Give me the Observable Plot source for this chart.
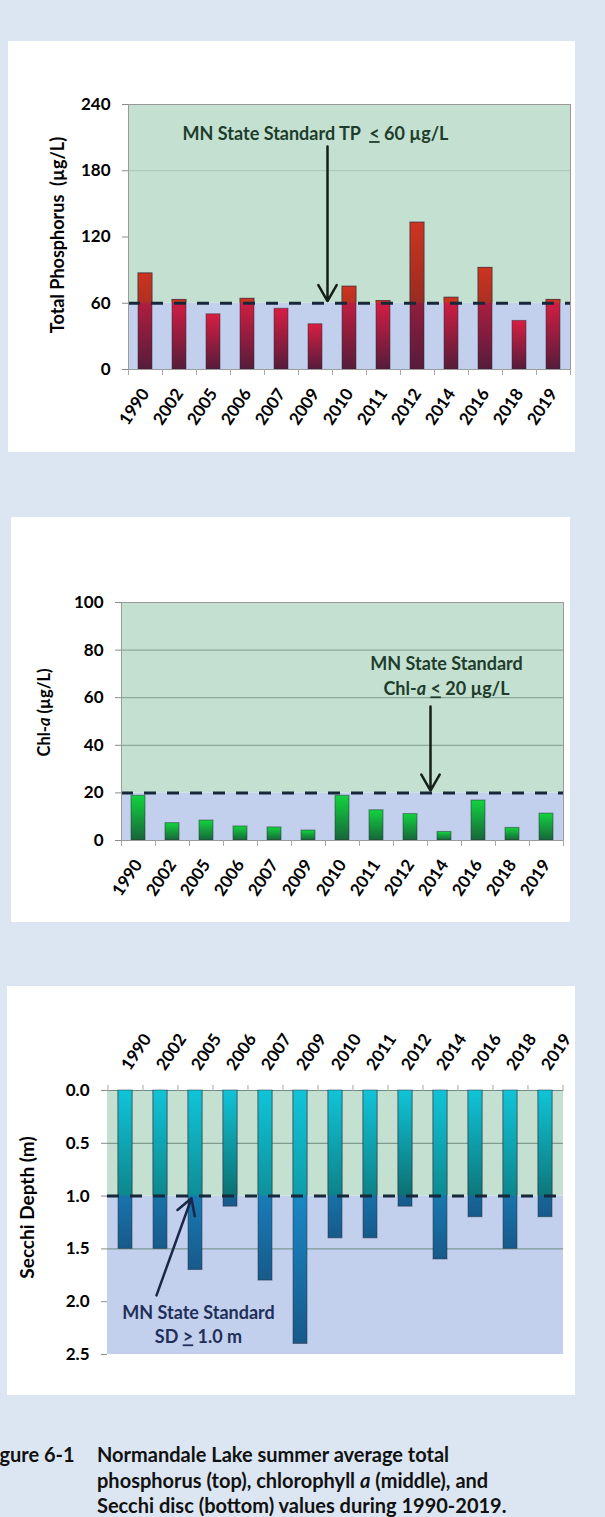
<!DOCTYPE html>
<html><head><meta charset="utf-8">
<script src="https://cdn.jsdelivr.net/npm/d3@7"></script>
<script src="https://cdn.jsdelivr.net/npm/@observablehq/plot@0.6"></script>
<style>
html,body{margin:0;padding:0;}
body{width:605px;height:1517px;background:#dce6f2;position:relative;overflow:hidden;font-family:Lato,"Open Sans",sans-serif;}
.panel{position:absolute;background:#fff;}
.panel svg{display:block;}
.caption{position:absolute;font-weight:bold;font-size:20px;color:#111;line-height:25.5px;white-space:nowrap;}
</style></head>
<body>
<div id="p1" class="panel" style="left:8px;top:41px;width:567px;height:411px"></div>
<div id="p2" class="panel" style="left:11px;top:517px;width:559px;height:405px"></div>
<div id="p3" class="panel" style="left:7px;top:986px;width:568px;height:409px"></div>
<div class="caption" style="left:-17px;top:1442px">Figure 6-1</div>
<div class="caption" style="left:97px;top:1442px">Normandale Lake summer average total<br>phosphorus (top), chlorophyll <i>a</i> (middle), and<br>Secchi disc (bottom) values during 1990-2019.</div>
<script>
// ---- data ----
const years = ["1990","2002","2005","2006","2007","2009","2010","2011","2012","2014","2016","2018","2019"];
const tpValues = [87, 63, 50, 64, 55, 41, 75, 62, 133, 65, 92, 44, 63];
const chlValues = [18.8, 7.3, 8.4, 5.9, 5.5, 4.2, 18.8, 12.7, 11.1, 3.6, 16.8, 5.3, 11.3];
const secchiValues = [1.5, 1.5, 1.7, 1.1, 1.8, 2.4, 1.4, 1.4, 1.1, 1.6, 1.2, 1.5, 1.2];
const tpTicks = [0, 60, 120, 180, 240];
const chlTicks = [0, 20, 40, 60, 80, 100];
const secchiTicks = [0, 0.5, 1.0, 1.5, 2.0, 2.5];
const tpStandard = 60, chlStandard = 20, secchiStandard = 1.0;
const tpGrid = [180], chlGrid = [40, 60, 80], secchiGrid = [0, 0.5, 1.5];
const tpLabel = "Total Phosphorus\u00a0 (µg/L)";
const chlLabel = "Chl-a (µg/L)";
const secchiLabel = "Secchi Depth (m)";
const tpNotes = [{x: "2009", y: 213, text: "MN State Standard TP\u00a0 ≤ 60 µg/L"}];
const chlNotes = [{x: "2014", y: 73.9, text: "MN State Standard"}, {x: "2014", y: 63.4, text: "Chl-a ≤ 20 µg/L"}];
const secchiNotes = [{x: "2005", y: 2.11, text: "MN State Standard"}, {x: "2005", y: 2.34, text: "SD ≥ 1.0 m"}];
const tpArrow = [{a: "2009", b: "2009", y1: 202, y2: 62}];
const chlArrow = [{a: "2014", b: "2014", y1: 56.3, y2: 21}];
const secchiArrow = [{a: "2002", b: "2005", y1: 1.94, y2: 1.02}];

const NS = "http://www.w3.org/2000/svg";
function esc(s){return s.replace(/&/g,"&amp;").replace(/</g,"&lt;").replace(/>/g,"&gt;");}
function richify(svg){
  svg.querySelectorAll("text").forEach(t => {
    if (t.querySelector("tspan")) return;
    const s = t.textContent;
    if (!/Chl-a|≤|≥/.test(s)) return;
    let h = esc(s);
    h = h.replace("Chl-a", 'Chl-<tspan font-style="italic">a</tspan>');
    h = h.replace("≤", '<tspan text-decoration="underline">&lt;</tspan>');
    h = h.replace("≥", '<tspan text-decoration="underline">&gt;</tspan>');
    t.innerHTML = h;
  });
}

function chart(c){
  const data = years.map((year, i) => ({year, value: c.values[i]}));
  const step = (c.width - c.ml - c.mr) / years.length;
  const defs = () => {
    const d = document.createElementNS(NS, "defs");
    d.innerHTML =
      `<linearGradient id="${c.id}-low" x1="0" y1="0" x2="0" y2="1"><stop offset="0" stop-color="${c.low[0]}"/><stop offset="1" stop-color="${c.low[1]}"/></linearGradient>` +
      `<linearGradient id="${c.id}-high" x1="0" y1="0" x2="0" y2="1"><stop offset="0" stop-color="${c.high[0]}"/><stop offset="1" stop-color="${c.high[1]}"/></linearGradient>`;
    return d;
  };
  const tick = {fontSize: 17, fontWeight: "bold"};
  const plot = Plot.plot({
    width: c.width, height: c.height,
    marginLeft: c.ml, marginRight: c.mr, marginTop: c.mt, marginBottom: c.mb,
    style: {background: "transparent", fontFamily: "Lato, 'Open Sans', sans-serif", overflow: "visible"},
    x: {type: "band", domain: years, paddingInner: 0.59, paddingOuter: 0.295},
    y: {domain: c.domain, reverse: !!c.reverse},
    marks: [
      defs,
      Plot.rect([c.lowRange], {y1: d => d[0], y2: d => d[1], fill: "#c2d0ee"}),
      Plot.rect([c.highRange], {y1: d => d[0], y2: d => d[1], fill: "#c4e0d0"}),
      Plot.ruleY(c.grid, {stroke: c.gridColor, strokeWidth: 1}),
      Plot.barY(data, {x: "year", y: "value", fill: `url(#${c.id}-low)`, stroke: "#2a2a3a", strokeOpacity: 0.5, strokeWidth: 1}),
      Plot.barY(data, {x: "year", y: "value", fill: `url(#${c.id}-high)`, stroke: "#2a2a3a", strokeOpacity: 0.5, strokeWidth: 1}),
      Plot.ruleY([c.standard], {stroke: "#17283a", strokeWidth: 3, strokeDasharray: "12,11"}),
      c.frame ? Plot.frame({stroke: "#9a9a9a"}) : null,
      Plot.axisY({ticks: c.ticks, tickFormat: c.tickFormat, tickSize: 6, tickPadding: 12, stroke: "#8a8a8a", fill: "#000", label: null, ...tick}),
      Plot.axisX({anchor: c.xAnchor, tickRotate: -56, tickSize: 0, tickPadding: c.xPad, fill: "#000", label: null, ...tick}),
      Plot.axisX({anchor: c.xAnchor, tickSize: 6, tickFormat: () => "", dx: -step / 2, stroke: "#a8a8a8", label: null}),
      Plot.axisX([years[years.length - 1]], {anchor: c.xAnchor, tickSize: 6, tickFormat: () => "", dx: step / 2, stroke: "#a8a8a8", label: null}),
      Plot.text([c.yLabel], {frameAnchor: "left", textAnchor: "middle", lineAnchor: "middle", rotate: -90, dx: c.labelDx, dy: c.labelDy, fill: "#000", fontSize: c.labelSize, fontWeight: "bold"}),
      Plot.text(c.notes, {x: "x", y: "y", text: "text", dx: c.noteDx, fill: c.noteColor, fontSize: 18, fontWeight: "bold"}),
      Plot.arrow(c.arrow, {x1: "a", y1: "y1", x2: "b", y2: "y2", dx: c.arrowDx, stroke: c.arrowColor, strokeWidth: 2.5, headLength: 11})
    ]
  });
  // clip the upper-zone copy of the bars
  const s = plot.scale("y");
  const f = s.apply ? (v => s.apply(v)) : d3.scaleLinear(s.domain, s.range);
  const ya = f(c.highRange[0]), yb = f(c.highRange[1]);
  const cp = document.createElementNS(NS, "clipPath");
  cp.setAttribute("id", c.id + "-clip");
  const r = document.createElementNS(NS, "rect");
  r.setAttribute("x", 0); r.setAttribute("width", c.width);
  r.setAttribute("y", Math.min(ya, yb)); r.setAttribute("height", Math.abs(ya - yb));
  cp.appendChild(r);
  plot.querySelector("defs").appendChild(cp);
  const bars = plot.querySelectorAll('g[aria-label="bar"]');
  if (bars[1]) bars[1].setAttribute("clip-path", `url(#${c.id}-clip)`);
  richify(plot);
  document.getElementById(c.el).appendChild(plot);
}

chart({id: "tp", el: "p1", width: 567, height: 411, ml: 120, mr: 5, mt: 63, mb: 83,
  domain: [0, 240], values: tpValues, ticks: tpTicks, tickFormat: d3.format("d"), standard: tpStandard,
  lowRange: [0, tpStandard], highRange: [tpStandard, 240], grid: tpGrid, gridColor: "#a9c6b6", frame: true,
  xAnchor: "bottom", xPad: 21, yLabel: tpLabel, labelSize: 18, labelDx: -70, labelDy: -2,
  low: ["#d81e42", "#561c3a"], high: ["#cc3420", "#6e2622"],
  notes: tpNotes, noteDx: 0, noteColor: "#1e3d2c", arrow: tpArrow, arrowDx: 12, arrowColor: "#142018"});

chart({id: "chl", el: "p2", width: 559, height: 405, ml: 110, mr: 7, mt: 85, mb: 82,
  domain: [0, 100], values: chlValues, ticks: chlTicks, tickFormat: d3.format("d"), standard: chlStandard,
  lowRange: [0, chlStandard], highRange: [chlStandard, 100], grid: chlGrid, gridColor: "#7f9c8c", frame: true,
  xAnchor: "bottom", xPad: 21, yLabel: chlLabel, labelSize: 16.5, labelDx: -77, labelDy: -9,
  low: ["#12d43e", "#17653a"], high: ["#12d43e", "#17653a"],
  notes: chlNotes, noteDx: 2, noteColor: "#1e3d2c", arrow: chlArrow, arrowDx: -14, arrowColor: "#142018"});

chart({id: "sd", el: "p3", width: 568, height: 409, ml: 100, mr: 12, mt: 104, mb: 41,
  domain: [0, 2.5], reverse: true, values: secchiValues, ticks: secchiTicks, tickFormat: d3.format(".1f"), standard: secchiStandard,
  lowRange: [secchiStandard, 2.5], highRange: [0, secchiStandard], grid: secchiGrid, gridColor: "#6f8a80", frame: false,
  xAnchor: "top", xPad: 22, yLabel: secchiLabel, labelSize: 19, labelDx: -80, labelDy: -15,
  low: ["#1aa8ee", "#175a8a"], high: ["#10c4d8", "#0c6868"],
  notes: secchiNotes, noteDx: 3, noteColor: "#1f2f57", arrow: secchiArrow, arrowDx: -4, arrowColor: "#1a2848"});
</script>
</body></html>
